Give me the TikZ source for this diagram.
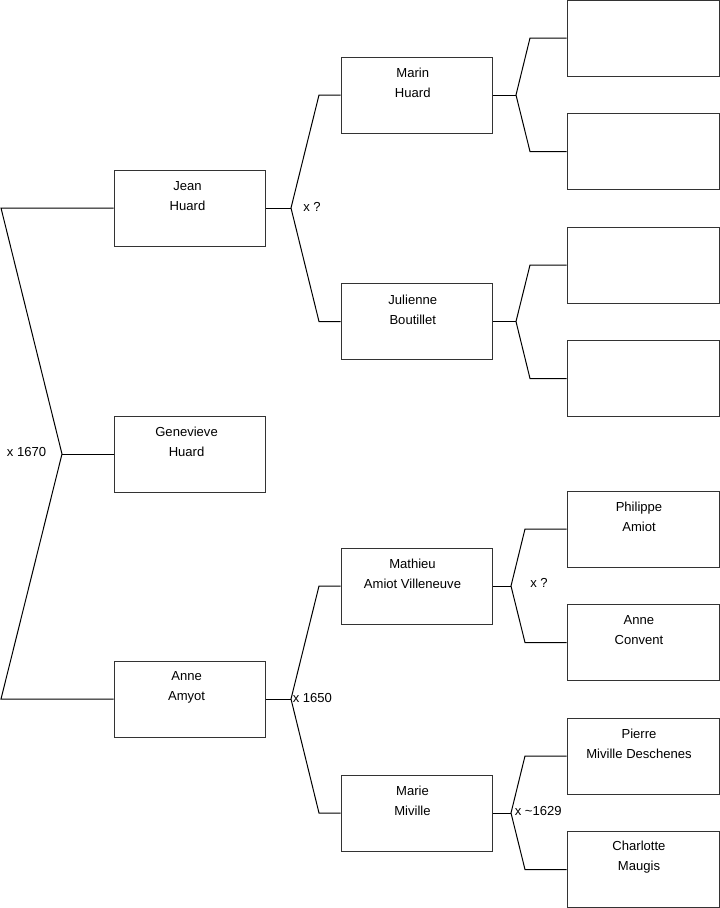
\documentclass[tikz,border=0pt]{standalone}
\usepackage{fontspec}
\setmainfont{Liberation Sans}
\begin{document}
\begin{tikzpicture}[x=0.75pt,y=-0.75pt,
  box/.style={draw=black!80,line width=0.75pt,rectangle,minimum width=113.25pt,minimum height=57pt,inner sep=0pt,fill=white},
  txt/.style={align=center,font=\fontsize{9.8pt}{15pt}\selectfont,inner sep=0pt},
  lbl/.style={font=\fontsize{9.8pt}{11pt}\selectfont,inner sep=0pt},
  conn/.style={draw=black,line width=0.75pt,line join=miter}]
\useasboundingbox (0,0) rectangle (719,908);
% boxes
\node[box] (jean) at (189.5,208) {};
\node[box] (gene) at (189.5,454) {};
\node[box] (anne) at (189.5,699) {};
\node[box] (marin) at (416.5,95) {};
\node[box] (julie) at (416.5,321.5) {};
\node[box] (mathieu) at (416.5,586) {};
\node[box] (marie) at (416.5,813) {};
\node[box,minimum width=114pt] (r1) at (643,38) {};
\node[box,minimum width=114pt] (r2) at (643,151.5) {};
\node[box,minimum width=114pt] (r3) at (643,265) {};
\node[box,minimum width=114pt] (r4) at (643,378.5) {};
\node[box,minimum width=114pt] (phil) at (643,529) {};
\node[box,minimum width=114pt] (conv) at (643,642.5) {};
\node[box,minimum width=114pt] (pierre) at (643,756) {};
\node[box,minimum width=114pt] (charl) at (643,869.5) {};
% texts
\node[txt] (tjean) at ([xshift=-1.5pt,yshift=9pt]jean.center) {Jean\\Huard};
\node[txt] (tgene) at ([xshift=-2.2pt,yshift=9pt]gene.center) {Genevieve\\Huard};
\node[txt] (tanne) at ([xshift=-2.2pt,yshift=9pt]anne.center) {Anne\\Amyot};
\node[txt] (tmarin) at ([xshift=-2.8pt,yshift=9pt]marin.center) {Marin\\Huard};
\node[txt] (tjulie) at ([xshift=-2.8pt,yshift=9pt]julie.center) {Julienne\\Boutillet};
\node[txt] (tmath) at ([xshift=-3pt,yshift=9pt]mathieu.center) {Mathieu\\Amiot Villeneuve};
\node[txt] (tmarie) at ([xshift=-3pt,yshift=9pt]marie.center) {Marie\\Miville};
\node[txt] (tphil) at ([xshift=-3pt,yshift=9pt]phil.center) {Philippe\\Amiot};
\node[txt] (tconv) at ([xshift=-3pt,yshift=9pt]conv.center) {Anne\\Convent};
\node[txt] (tpierre) at ([xshift=-3pt,yshift=9pt]pierre.center) {Pierre\\Miville Deschenes};
\node[txt] (tcharl) at ([xshift=-3pt,yshift=9pt]charl.center) {Charlotte\\Maugis};
% couple 0
\coordinate (a0) at (62,454);
\coordinate (t0) at (1,208);
\coordinate (b0) at (1,699);
\draw[conn] (jean.west) -- (t0) -- (a0) -- (b0) -- (anne.west);
\draw[conn] (a0) -- (gene.west);
\node[lbl] (l0) at (26.5,451.5) {x 1670};
% couple Jean
\coordinate (a1) at (291,208);
\coordinate (t1) at (319,95);
\coordinate (b1) at (319,321.5);
\draw[conn] (marin.west) -- (t1) -- (a1) -- (b1) -- (julie.west);
\draw[conn] (a1) -- (jean.east);
\node[lbl] (l1) at (312,207) {x ?};
% couple Marin
\coordinate (a2) at (516,95);
\coordinate (t2) at (530,38);
\coordinate (b2) at (530,151.5);
\draw[conn] (r1.west) -- (t2) -- (a2) -- (b2) -- (r2.west);
\draw[conn] (a2) -- (marin.east);
% couple Julienne
\coordinate (a3) at (516,321.5);
\coordinate (t3) at (530,265);
\coordinate (b3) at (530,378.5);
\draw[conn] (r3.west) -- (t3) -- (a3) -- (b3) -- (r4.west);
\draw[conn] (a3) -- (julie.east);
% couple Anne
\coordinate (a4) at (291,699);
\coordinate (t4) at (319,586);
\coordinate (b4) at (319,813);
\draw[conn] (mathieu.west) -- (t4) -- (a4) -- (b4) -- (marie.west);
\draw[conn] (a4) -- (anne.east);
\node[lbl,anchor=west] (l4) at (292.5,698) {x 1650};
% couple Mathieu
\coordinate (a5) at (511,586);
\coordinate (t5) at (525,529);
\coordinate (b5) at (525,642.5);
\draw[conn] (phil.west) -- (t5) -- (a5) -- (b5) -- (conv.west);
\draw[conn] (a5) -- (mathieu.east);
\node[lbl] (l5) at (539,583) {x ?};
% couple Marie
\coordinate (a6) at (511,813);
\coordinate (t6) at (525,756);
\coordinate (b6) at (525,869.5);
\draw[conn] (pierre.west) -- (t6) -- (a6) -- (b6) -- (charl.west);
\draw[conn] (a6) -- (marie.east);
\node[lbl,anchor=west] (l6) at (514.5,811) {x \textasciitilde1629};
\end{tikzpicture}
\end{document}
